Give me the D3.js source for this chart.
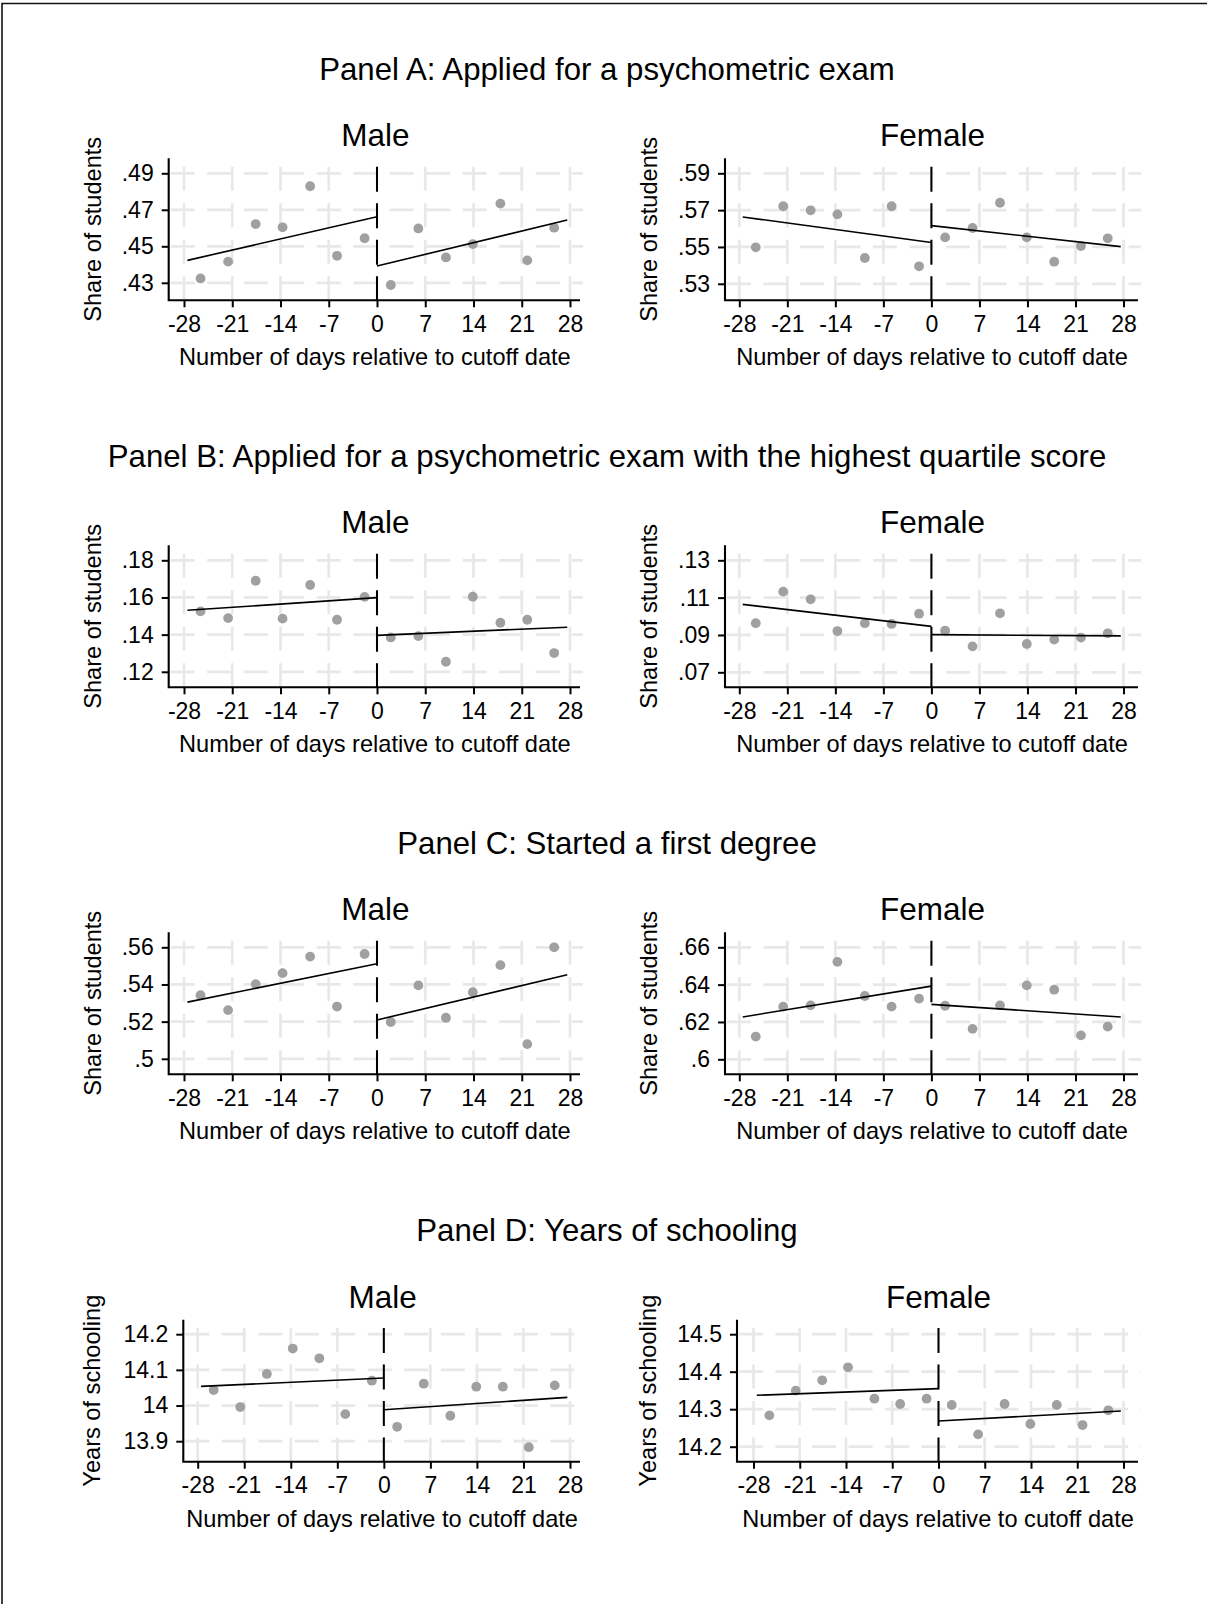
<!DOCTYPE html>
<html>
<head>
<meta charset="utf-8">
<script src="https://cdn.jsdelivr.net/npm/d3@7"></script>
<style>
  body { margin: 0; background: #fff; }
</style>
</head>
<body>
<div id="chart"></div>
<script>
var W = 1207, H = 1604;

// bin centres, days relative to the cutoff (same bins in every panel)
var binDays = [-25.6, -21.6, -17.6, -13.7, -9.7, -5.8, -1.8, 2, 6, 10, 13.9, 17.9, 21.8, 25.7];
var xTicks = [-28, -21, -14, -7, 0, 7, 14, 21, 28];

var panelTitles = [
    "Panel A: Applied for a psychometric exam",
    "Panel B: Applied for a psychometric exam with the highest quartile score",
    "Panel C: Started a first degree",
    "Panel D: Years of schooling"
];
var yTitles = ["Share of students", "Share of students", "Share of students", "Years of schooling"];
var xTitle = "Number of days relative to cutoff date";
var groups = ["Male", "Female"];

// Panel A
var aMale = [.4324, .4416, .4622, .4604, .4829, .4448, .4544, .4288, .4598, .4439, .4512, .4734, .4423, .4602];
var aMaleFit = [[-27.5, .4423, 0, .4662], [0, .4392, 27.6, .4644]];
var aMaleTicks = [.43, .45, .47, .49];
var aFemale = [.5498, .5721, .5699, .5677, .5440, .5721, .5395, .5552, .5603, .5740, .5552, .5420, .5505, .5547];
var aFemaleFit = [[-27.5, .5663, 0, .5524], [0, .5616, 27.6, .5502]];
var aFemaleTicks = [.53, .55, .57, .59];

// Panel B
var bMale = [.1525, .1489, .1690, .1486, .1667, .1480, .1603, .1385, .1392, .1254, .1604, .1464, .1480, .1301];
var bMaleFit = [[-27.5, .1531, 0, .1599], [0, .1396, 27.6, .1440]];
var bMaleTicks = [.12, .14, .16, .18];
var bFemale = [.0963, .1132, .1091, .0921, .0963, .0959, .1014, .0923, .0839, .1016, .0852, .0875, .0886, .0909];
var bFemaleFit = [[-27.5, .1064, 0, .0946], [0, .0902, 27.6, .0895]];
var bFemaleTicks = [.07, .09, .11, .13];

// Panel C
var cMale = [.5342, .5262, .5402, .5461, .5550, .5281, .5564, .5198, .5395, .5221, .5358, .5504, .5079, .5600];
var cMaleFit = [[-27.5, .5305, 0, .5511], [0, .5209, 27.6, .5452]];
var cMaleTicks = [.5, .52, .54, .56];
var cFemale = [.6122, .6282, .6289, .6522, .6339, .6282, .6325, .6287, .6163, .6289, .6396, .6373, .6128, .6175];
var cFemaleFit = [[-27.5, .6227, 0, .6392], [0, .6294, 27.6, .6227]];
var cFemaleTicks = [.6, .62, .64, .66];

// Panel D
var dMale = [14.0435, 13.9957, 14.0885, 14.1597, 14.1325, 13.976, 14.0697, 13.9404, 14.0613, 13.9713, 14.0529, 14.0529, 13.8832, 14.0566];
var dMaleFit = [[-27.5, 14.0538, 0, 14.0772], [0, 13.9882, 27.6, 14.0229]];
var dMaleTicks = [13.9, 14, 14.1, 14.2];
var dFemale = [14.2836, 14.3495, 14.3771, 14.4118, 14.3281, 14.3139, 14.3281, 14.3112, 14.2329, 14.3139, 14.2605, 14.3112, 14.2578, 14.2970];
var dFemaleFit = [[-27.5, 14.337, 0, 14.3549], [0, 14.2685, 27.6, 14.2952]];
var dFemaleTicks = [14.2, 14.3, 14.4, 14.5];

var panels = [
    { row: 0, col: 0, vals: aMale,   fit: aMaleFit,   ticks: aMaleTicks },
    { row: 0, col: 1, vals: aFemale, fit: aFemaleFit, ticks: aFemaleTicks },
    { row: 1, col: 0, vals: bMale,   fit: bMaleFit,   ticks: bMaleTicks },
    { row: 1, col: 1, vals: bFemale, fit: bFemaleFit, ticks: bFemaleTicks },
    { row: 2, col: 0, vals: cMale,   fit: cMaleFit,   ticks: cMaleTicks },
    { row: 2, col: 1, vals: cFemale, fit: cFemaleFit, ticks: cFemaleTicks },
    { row: 3, col: 0, vals: dMale,   fit: dMaleFit,   ticks: dMaleTicks },
    { row: 3, col: 1, vals: dFemale, fit: dFemaleFit, ticks: dFemaleTicks }
];

// layout (pixels)
var rowTop = [158.3, 545.3, 932.3, 1319.7];
var plotH = 142;
var plotLeft  = [[168.7, 725], [168.7, 725], [168.7, 725], [183.3, 737]];
var plotRight = [580, 1138];
var xLoPx = [[184, 739.3], [184, 739.3], [184, 739.3], [197.7, 753.5]];
var xHiPx = [570, 1123.5];
var tickTopOff = [15, 15, 15, 14.5];
var tickBotOff = [[124.5, 125.5], [126.5, 127], [126.5, 127], [121.5, 127]];
var yTitleOff = [[67.3, 68.5], [67.3, 68.5], [67.3, 68.5], [83, 81]];

var font = "'Liberation Sans', Arial, Helvetica, sans-serif";
var gridColor = "#e8e8e8";
var dotColor = "#a0a0a0";

function fmt(v) {
    var s = String(+v.toFixed(4));
    return s.replace(/^0\./, ".");
}

var svg = d3.select("#chart")
    .append("svg")
    .attr("width", W)
    .attr("height", H)
    .style("font-family", font);

svg.append("rect").attr("width", W).attr("height", H).attr("fill", "#fff");

// outer frame (cut off at right and bottom)
svg.append("path")
    .attr("d", "M2," + H + "L2,3.5L" + W + ",3.5")
    .attr("fill", "none")
    .attr("stroke", "#111")
    .attr("stroke-width", 1.6);

// panel titles
for (let r = 0; r < 4; r++) {
    svg.append("text")
        .attr("x", 607)
        .attr("y", rowTop[r] - 78.3)
        .attr("text-anchor", "middle")
        .attr("font-size", 31.2)
        .attr("fill", "#000")
        .text(panelTitles[r]);
}

panels.forEach(function (p) {
    var r = p.row, c = p.col;
    var pTop = rowTop[r];
    var pBottom = pTop + plotH;
    var pLeft = plotLeft[r][c];
    var pRight = plotRight[c];

    var x = d3.scaleLinear()
        .domain([-28, 28])
        .range([xLoPx[r][c], xHiPx[c]]);

    var y = d3.scaleLinear()
        .domain([p.ticks[0], p.ticks[p.ticks.length - 1]])
        .range([pTop + tickBotOff[r][c], pTop + tickTopOff[r]]);

    var g = svg.append("g");

    // grid, light and dashed
    g.selectAll(".hgrid")
        .data(p.ticks)
        .enter()
        .append("line")
        .attr("class", "hgrid")
        .attr("x1", pLeft + 2)
        .attr("x2", pRight + 3)
        .attr("y1", function (d) { return y(d); })
        .attr("y2", function (d) { return y(d); })
        .attr("stroke", gridColor)
        .attr("stroke-width", 2.7)
        .attr("stroke-dasharray", "24,12.5");

    g.selectAll(".vgrid")
        .data(xTicks)
        .enter()
        .append("line")
        .attr("class", "vgrid")
        .attr("x1", function (d) { return x(d); })
        .attr("x2", function (d) { return x(d); })
        .attr("y1", pTop + 8.4)
        .attr("y2", pBottom)
        .attr("stroke", gridColor)
        .attr("stroke-width", 2.7)
        .attr("stroke-dasharray", "24,12.5");

    // cutoff line
    g.append("line")
        .attr("x1", x(0))
        .attr("x2", x(0))
        .attr("y1", pTop + 8.4)
        .attr("y2", pBottom)
        .attr("stroke", "#000")
        .attr("stroke-width", 2)
        .attr("stroke-dasharray", "25,11.5");

    // bin means
    g.selectAll(".dot")
        .data(p.vals)
        .enter()
        .append("circle")
        .attr("class", "dot")
        .attr("cx", function (d, j) { return x(binDays[j]); })
        .attr("cy", function (d) { return y(d); })
        .attr("r", 4.9)
        .attr("fill", dotColor);

    // linear fits either side of the cutoff
    g.selectAll(".fit")
        .data(p.fit)
        .enter()
        .append("line")
        .attr("class", "fit")
        .attr("x1", function (d) { return x(d[0]); })
        .attr("y1", function (d) { return y(d[1]); })
        .attr("x2", function (d) { return x(d[2]); })
        .attr("y2", function (d) { return y(d[3]); })
        .attr("stroke", "#000")
        .attr("stroke-width", 1.6);

    // axes
    var yAxis = g.append("g")
        .attr("transform", "translate(" + pLeft + ",0)")
        .call(d3.axisLeft(y).tickValues(p.ticks).tickSize(7).tickPadding(8).tickFormat(fmt));

    var xAxis = g.append("g")
        .attr("transform", "translate(0," + pBottom + ")")
        .call(d3.axisBottom(x).tickValues(xTicks).tickSize(7).tickPadding(8).tickFormat(function (d) { return String(d); }));

    [yAxis, xAxis].forEach(function (a) {
        a.select(".domain").remove();
        a.selectAll(".tick line").attr("stroke", "#000").attr("stroke-width", 2);
        a.selectAll(".tick text")
            .attr("font-family", font)
            .attr("font-size", 23)
            .attr("fill", "#000");
    });

    g.append("path")
        .attr("d", "M" + pLeft + "," + pTop + "L" + pLeft + "," + pBottom + "L" + pRight + "," + pBottom)
        .attr("fill", "none")
        .attr("stroke", "#000")
        .attr("stroke-width", 2.1);

    // titles
    g.append("text")
        .attr("x", (pLeft + pRight) / 2 + 1)
        .attr("y", pTop - 12.2)
        .attr("text-anchor", "middle")
        .attr("font-size", 31.5)
        .text(groups[c]);

    g.append("text")
        .attr("x", (pLeft + pRight) / 2 + 0.5)
        .attr("y", pBottom + 65)
        .attr("text-anchor", "middle")
        .attr("font-size", 23.6)
        .text(xTitle);

    g.append("text")
        .attr("transform", "translate(" + (pLeft - yTitleOff[r][c]) + "," + ((pTop + pBottom) / 2) + ") rotate(-90)")
        .attr("text-anchor", "middle")
        .attr("font-size", 23.6)
        .text(yTitles[r]);
});
</script>
</body>
</html>
